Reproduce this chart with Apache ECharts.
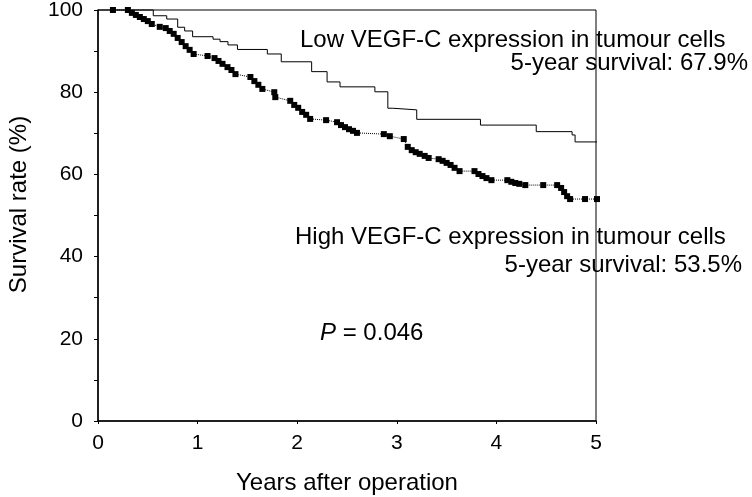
<!DOCTYPE html>
<html>
<head>
<meta charset="utf-8">
<script src="https://cdn.jsdelivr.net/npm/echarts@6/dist/echarts.min.js"></script>
<style>
html,body{margin:0;padding:0;background:#fff;}
#chart{width:752px;height:497px;}
</style>
</head>
<body>
<div id="chart"></div>
<script>
// Low VEGF-C expression (Kaplan-Meier step curve)
const lowTime = [0, 0.555, 0.69, 0.80, 0.87, 0.95, 1.155, 1.225, 1.305, 1.40, 1.70, 1.84, 2.145, 2.30, 2.43, 2.78, 2.91, 2.96, 3.20, 3.84, 4.40, 4.76, 4.79, 5.07];
const lowSurv = [100, 98.6, 97.8, 95.8, 94.9, 93.5, 92.9, 92.3, 91.5, 90.4, 89.3, 87.4, 85.0, 82.5, 81.3, 80.1, 76.1, 75.7, 73.4, 72.0, 70.4, 69.6, 67.9, 67.9];

// High VEGF-C expression (square markers)
const highTime = [0.15, 0.30, 0.34, 0.38, 0.42, 0.46, 0.50, 0.54, 0.62, 0.68, 0.72, 0.76, 0.80, 0.84, 0.88, 0.92, 0.96,
  1.10, 1.17, 1.21, 1.25, 1.30, 1.34, 1.38, 1.53, 1.57, 1.61, 1.65, 1.77, 1.78, 1.93, 1.97,
  2.01, 2.05, 2.09, 2.13, 2.29, 2.40, 2.44, 2.48, 2.52, 2.56, 2.60, 2.87, 2.93,
  3.07, 3.11, 3.15, 3.19, 3.23, 3.28, 3.32, 3.42, 3.46, 3.50, 3.54, 3.58, 3.63, 3.78, 3.82, 3.86, 3.90, 3.95,
  4.11, 4.15, 4.19, 4.23, 4.29, 4.47, 4.61, 4.65, 4.68, 4.71, 4.74, 4.89, 5.01];
const highSurv = [100, 100, 99.3, 98.8, 98.3, 97.8, 97.3, 96.6, 95.9, 95.6, 94.9, 94.2, 93.2, 92.2, 91.2, 90.3, 89.3,
  88.8, 88.3, 87.6, 86.9, 86.1, 85.4, 84.4, 83.7, 82.7, 81.8, 80.8, 80.0, 78.8, 77.9, 76.9,
  76.2, 75.2, 74.5, 73.5, 73.2, 72.7, 72.0, 71.5, 71.0, 70.6, 70.1, 69.8, 69.3,
  68.6, 66.7, 65.9, 65.4, 65.0, 64.5, 64.0, 63.7, 63.3, 62.8, 62.3, 61.6, 60.8, 60.8, 60.1, 59.6, 59.1, 58.6,
  58.6, 58.2, 57.9, 57.7, 57.4, 57.4, 57.4, 56.7, 55.7, 54.7, 54.0, 54.0, 54.0];

const xName = 'Years after operation';
const yName = 'Survival rate (%)';
const lowLabel1 = 'Low VEGF-C expression in tumour cells';
const lowLabel2 = '5-year survival: 67.9%';
const highLabel1 = 'High VEGF-C expression in tumour cells';
const highLabel2 = '5-year survival: 53.5%';

const FONT = '"Liberation Sans", Arial, Helvetica, sans-serif';
const chart = echarts.init(document.getElementById('chart'));

const zip = (a, b) => a.map((v, i) => [v, b[i]]);

chart.setOption({
  animation: false,
  backgroundColor: '#fff',
  grid: { left: 98, right: 156, top: 10, bottom: 76, outerBoundsMode: 'none', containLabel: false, show: true, borderColor: '#000', borderWidth: 1, backgroundColor: 'transparent' },
  xAxis: {
    type: 'value', min: 0, max: 5, interval: 1,
    name: xName, nameLocation: 'middle', nameGap: 50,
    nameTextStyle: { fontFamily: FONT, fontSize: 24, color: '#000' },
    axisLine: { show: true, lineStyle: { color: '#000', width: 1.5 } },
    axisTick: { show: true, length: 3, lineStyle: { color: '#000' } },
    axisLabel: { fontFamily: FONT, fontSize: 21, color: '#000', margin: 12 },
    splitLine: { show: false }
  },
  yAxis: {
    type: 'value', min: 0, max: 100, interval: 20,
    name: yName, nameLocation: 'middle', nameGap: 67,
    nameTextStyle: { fontFamily: FONT, fontSize: 24, color: '#000', padding: [0, 0, 0, 22] },
    axisLine: { show: true, lineStyle: { color: '#000', width: 1.5 } },
    axisTick: { show: true, length: 4, lineStyle: { color: '#000' } },
    minorTick: { show: true, splitNumber: 2, length: 4, lineStyle: { color: '#000' } },
    axisLabel: { fontFamily: FONT, fontSize: 21, color: '#000', margin: 15 },
    splitLine: { show: false }
  },
  series: [
    {
      name: 'Low', type: 'line', step: 'end', clip: false,
      data: zip(lowTime, lowSurv),
      showSymbol: false, symbol: 'none',
      lineStyle: { color: '#000', width: 1 }
    },
    {
      name: 'High', type: 'line', clip: false,
      data: zip(highTime, highSurv),
      symbol: 'rect', symbolSize: 6,
      itemStyle: { color: '#000' },
      lineStyle: { color: '#000', width: 1, type: 'dotted' }
    }
  ],
  graphic: [
    { type: 'text', left: 300, top: 28, style: { text: lowLabel1, font: '24px ' + FONT, fill: '#000' } },
    { type: 'text', right: 4, top: 51, style: { text: lowLabel2, font: '24px ' + FONT, fill: '#000' } },
    { type: 'text', left: 295, top: 225, style: { text: highLabel1, font: '24px ' + FONT, fill: '#000' } },
    { type: 'text', right: 10, top: 253, style: { text: highLabel2, font: '24px ' + FONT, fill: '#000' } },
    { type: 'text', left: 320, top: 321, style: { rich: { i: { fontStyle: 'italic', fontSize: 24, fontFamily: FONT }, n: { fontSize: 24, fontFamily: FONT } }, text: '{i|P}{n| = 0.046}', fill: '#000' } }
  ]
});
</script>
</body>
</html>
